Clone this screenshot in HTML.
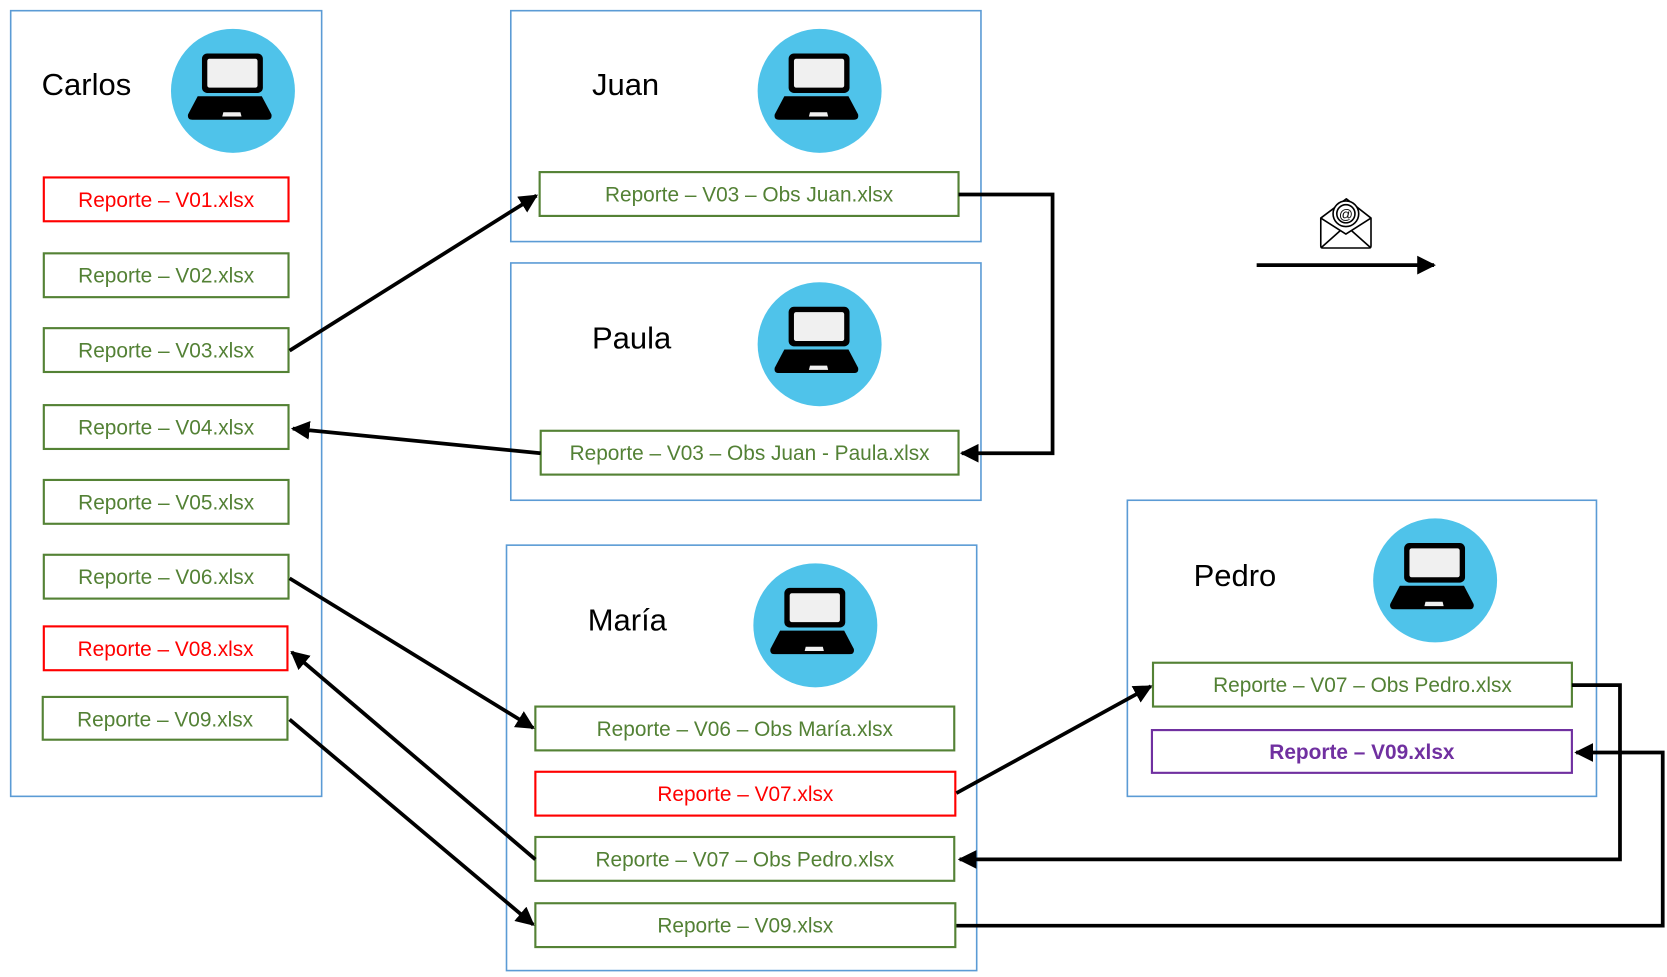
<!DOCTYPE html>
<html><head><meta charset="utf-8"><style>
html,body{margin:0;padding:0;background:#fff;width:1667px;height:977px;overflow:hidden}
svg{display:block}
text{font-family:"Liberation Sans",sans-serif}
.n{font-size:29px;fill:#000}
.r{font-size:19.5px;text-anchor:middle}
.g{fill:#538135}.rd{fill:#ff0000}
.bx{fill:none;stroke:#5b9bd5;stroke-width:1.5}
.gb{fill:#fff;stroke:#548235;stroke-width:2}
.rb{fill:#fff;stroke:#ff0000;stroke-width:2}
.ar{fill:none;stroke:#000;stroke-width:3.5}
</style></head><body>
<svg width="1667" height="977" viewBox="0 0 1560 914" preserveAspectRatio="none" xmlns="http://www.w3.org/2000/svg">
<defs>
<marker id="a" markerWidth="5" markerHeight="5" refX="4.5" refY="2.5" orient="auto" markerUnits="strokeWidth"><path d="M0,0 L5,2.5 L0,5 Z" fill="#000"/></marker>
<g id="lap">
<circle r="58" fill="#4fc3ea"/>
<rect x="-29" y="-35" width="57" height="37" rx="5" fill="#000"/>
<rect x="-24" y="-30" width="47" height="27" rx="2" fill="#f0f0f0"/>
<path d="M-33,5 L27,5 L36,22 Q37,27 32,27 L-38,27 Q-43,27 -42,22 Z" fill="#000"/>
<path d="M-9,20 L7,20 L8,24 L-10,24 Z" fill="#f0f0f0"/>
</g>
</defs>
<!-- Carlos -->
<rect class="bx" x="10" y="10" width="291" height="735"/>
<text class="n" x="39" y="89">Carlos</text>
<use href="#lap" x="218" y="85"/>
<rect class="rb" x="41" y="166" width="229" height="41"/><text class="r rd" x="155.5" y="193.5">Reporte – V01.xlsx</text>
<rect class="gb" x="41" y="237" width="229" height="41"/><text class="r g" x="155.5" y="264.5">Reporte – V02.xlsx</text>
<rect class="gb" x="41" y="307" width="229" height="41"/><text class="r g" x="155.5" y="334.5">Reporte – V03.xlsx</text>
<rect class="gb" x="41" y="379" width="229" height="41"/><text class="r g" x="155.5" y="406.5">Reporte – V04.xlsx</text>
<rect class="gb" x="41" y="449" width="229" height="41"/><text class="r g" x="155.5" y="476.5">Reporte – V05.xlsx</text>
<rect class="gb" x="41" y="519" width="229" height="41"/><text class="r g" x="155.5" y="546.5">Reporte – V06.xlsx</text>
<rect class="rb" x="41" y="586" width="228" height="41"/><text class="r rd" x="155" y="613.5">Reporte – V08.xlsx</text>
<rect class="gb" x="40" y="652" width="229" height="40"/><text class="r g" x="154.5" y="679.5">Reporte – V09.xlsx</text>
<!-- Juan -->
<rect class="bx" x="478" y="10" width="440" height="216"/>
<text class="n" x="554" y="89">Juan</text>
<use href="#lap" x="767" y="85"/>
<rect class="gb" x="505" y="161" width="392" height="41"/><text class="r g" x="701" y="188.5">Reporte – V03 – Obs Juan.xlsx</text>
<!-- Paula -->
<rect class="bx" x="478" y="246" width="440" height="222"/>
<text class="n" x="554" y="326">Paula</text>
<use href="#lap" x="767" y="322"/>
<rect class="gb" x="506" y="403" width="391" height="41"/><text class="r g" x="701.5" y="430.5">Reporte – V03 – Obs Juan - Paula.xlsx</text>
<!-- María -->
<rect class="bx" x="474" y="510" width="440" height="398"/>
<text class="n" x="550" y="590">María</text>
<use href="#lap" x="763" y="585"/>
<rect class="gb" x="501" y="661" width="392" height="41"/><text class="r g" x="697" y="688.5">Reporte – V06 – Obs María.xlsx</text>
<rect class="rb" x="501" y="722" width="393" height="41"/><text class="r rd" x="697.5" y="749.5">Reporte – V07.xlsx</text>
<rect class="gb" x="501" y="783" width="392" height="41"/><text class="r g" x="697" y="810.5">Reporte – V07 – Obs Pedro.xlsx</text>
<rect class="gb" x="501" y="845" width="393" height="41"/><text class="r g" x="697.5" y="872.5">Reporte – V09.xlsx</text>
<!-- Pedro -->
<rect class="bx" x="1055" y="468" width="439" height="277"/>
<text class="n" x="1117" y="548">Pedro</text>
<use href="#lap" x="1343" y="543"/>
<rect class="gb" x="1079" y="620" width="392" height="41"/><text class="r g" x="1275" y="647.5">Reporte – V07 – Obs Pedro.xlsx</text>
<rect x="1078" y="683" width="393" height="40" fill="#fff" stroke="#7030a0" stroke-width="2"/><text class="r" x="1274.5" y="710" fill="#7030a0" font-weight="bold">Reporte – V09.xlsx</text>
<!-- email -->
<g fill="#fff" stroke="#000" stroke-width="1.5" stroke-linejoin="round">
<path d="M1236,204 L1260,186 L1283,204 L1283,230 Q1283,232 1281,232 L1238,232 Q1236,232 1236,230 Z"/>
<circle cx="1259.5" cy="200" r="12"/>
<circle cx="1259.5" cy="200" r="8.5"/>
<path d="M1236,204 L1259.5,219 L1283,204 M1236,232 L1254,216 M1283,232 L1265,216" fill="none"/>
</g>
<text x="1259.5" y="205" font-size="13" text-anchor="middle" font-family="Liberation Sans">@</text>
<line class="ar" x1="1176" y1="248" x2="1342" y2="248" marker-end="url(#a)"/>
<!-- connectors -->
<line class="ar" x1="271" y1="328" x2="502" y2="183" marker-end="url(#a)"/>
<polyline class="ar" points="897,182 985,182 985,424 900,424" marker-end="url(#a)"/>
<line class="ar" x1="506" y1="424" x2="274" y2="401" marker-end="url(#a)"/>
<line class="ar" x1="271" y1="541" x2="499" y2="681" marker-end="url(#a)"/>
<line class="ar" x1="501" y1="804" x2="273" y2="610" marker-end="url(#a)"/>
<line class="ar" x1="271" y1="673" x2="499" y2="865" marker-end="url(#a)"/>
<line class="ar" x1="895" y1="742" x2="1077" y2="642" marker-end="url(#a)"/>
<polyline class="ar" points="1471,641 1516,641 1516,804 898,804" marker-end="url(#a)"/>
<polyline class="ar" points="895,866 1556,866 1556,704 1475,704" marker-end="url(#a)"/>
</svg>
</body></html>
